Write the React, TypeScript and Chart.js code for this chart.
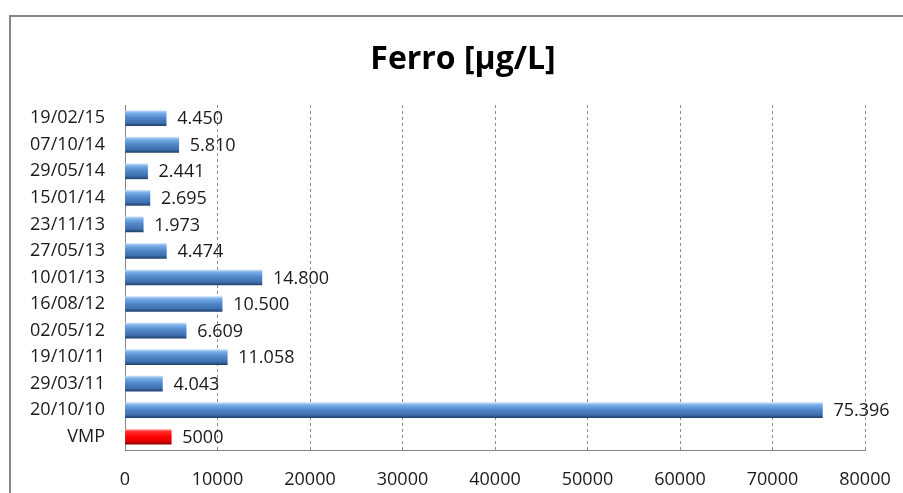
import React, { useEffect, useRef } from "react";
import { Chart, registerables } from "chart.js";

Chart.register(...registerables);

const categories = [
  "19/02/15", "07/10/14", "29/05/14", "15/01/14", "23/11/13", "27/05/13",
  "10/01/13", "16/08/12", "02/05/12", "19/10/11", "29/03/11", "20/10/10", "VMP",
];
const values = [4450, 5810, 2441, 2695, 1973, 4474, 14800, 10500, 6609, 11058, 4043, 75396, 5000];
const limitLabel = "VMP";
const xTicks = [0, 10000, 20000, 30000, 40000, 50000, 60000, 70000, 80000];
const title = "Ferro [µg/L]";

const FONT = "'Open Sans', 'DejaVu Sans', sans-serif";
const BAR_H = 15;

function fmt(v: number, cat: string): string {
  if (cat === limitLabel) return String(v);
  return String(v).replace(/\B(?=(\d{3})+(?!\d))/g, ".");
}

const blueStops: [number, string][] = [
  [0, "#c2dbf7"], [0.15, "#78aee8"], [0.45, "#5289cc"], [0.8, "#3f70b0"], [1, "#22436f"],
];
const redStops: [number, string][] = [
  [0, "#ffb8b8"], [0.15, "#ff3030"], [0.5, "#ff0000"], [0.8, "#e00000"], [1, "#8c0000"],
];

const framePlugin = {
  id: "frame",
  beforeDraw(chart: any) {
    const { ctx, width, height } = chart;
    ctx.save();
    ctx.fillStyle = "#ffffff";
    ctx.fillRect(0, 0, width, height);
    ctx.strokeStyle = "#868686";
    ctx.lineWidth = 2;
    ctx.strokeRect(10, 16, width + 50, height + 50);
    ctx.restore();
  },
};

const titlePlugin = {
  id: "centerTitle",
  afterDraw(chart: any) {
    const { ctx } = chart;
    ctx.save();
    ctx.font = `bold 32px ${FONT}`;
    ctx.fillStyle = "#000000";
    ctx.textAlign = "center";
    ctx.textBaseline = "middle";
    ctx.fillText(title, 463, 60);
    ctx.restore();
  },
};

const labelPlugin = {
  id: "valueLabels",
  afterDatasetsDraw(chart: any) {
    const { ctx } = chart;
    const meta = chart.getDatasetMeta(0);
    ctx.save();
    ctx.font = `18px ${FONT}`;
    ctx.fillStyle = "#1a1a1a";
    ctx.textAlign = "left";
    ctx.textBaseline = "middle";
    meta.data.forEach((bar: any, i: number) => {
      ctx.fillText(fmt(values[i], categories[i]), bar.x + 11, bar.y + 1);
    });
    ctx.restore();
  },
};

export default function App() {
  const ref = useRef<HTMLCanvasElement | null>(null);

  useEffect(() => {
    if (!ref.current) return;
    const chart = new Chart(ref.current, {
      type: "bar",
      data: {
        labels: categories,
        datasets: [
          {
            data: values,
            barThickness: BAR_H,
            borderWidth: 0,
            backgroundColor: (c: any) => {
              const isLimit = categories[c.dataIndex] === limitLabel;
              const stops = isLimit ? redStops : blueStops;
              const ys = c.chart.scales && c.chart.scales.y;
              if (!ys || c.dataIndex === undefined) return stops[2][1];
              const y = ys.getPixelForValue(c.dataIndex);
              if (!isFinite(y)) return stops[2][1];
              const g = c.chart.ctx.createLinearGradient(0, y - BAR_H / 2, 0, y + BAR_H / 2);
              stops.forEach(([o, col]) => g.addColorStop(o, col));
              return g;
            },
          },
        ],
      },
      options: {
        indexAxis: "y",
        animation: false,
        responsive: true,
        maintainAspectRatio: false,
        layout: { padding: { left: 0, right: 38, top: 105, bottom: 0 } },
        plugins: {
          legend: { display: false },
          tooltip: { enabled: false },
          title: { display: false },
        },
        scales: {
          x: {
            min: 0,
            max: 80000,
            afterBuildTicks: (s: any) => {
              s.ticks = xTicks.map((v) => ({ value: v }));
            },
            afterFit: (s: any) => {
              s.height = 43;
              s.paddingLeft = 0;
              s.paddingRight = 0;
            },
            ticks: {
              color: "#1a1a1a",
              font: { family: FONT, size: 18 },
              padding: 19,
              maxRotation: 0,
              callback: (v: any) => String(v),
            },
            grid: {
              color: (c: any) => (c.tick && c.tick.value === 0 ? "rgba(0,0,0,0)" : "#8c8c8c"),
              drawTicks: false,
              lineWidth: 1,
            },
            border: { display: true, color: "#868686", width: 1, dash: [3, 3] },
          },
          y: {
            afterFit: (s: any) => {
              s.width = 125;
              s.paddingTop = 0;
              s.paddingBottom = 0;
            },
            ticks: {
              color: "#1a1a1a",
              font: { family: FONT, size: 18 },
              padding: 20,
            },
            grid: { display: false, drawTicks: false },
            border: { display: true, color: "#868686", width: 1 },
          },
        },
      },
      plugins: [framePlugin, labelPlugin, titlePlugin],
    } as any);
    chart.update();
    return () => chart.destroy();
  }, []);

  return (
    <div style={{ position: "fixed", left: 0, top: 0, width: 903, height: 493 }}>
      <canvas ref={ref} />
    </div>
  );
}
